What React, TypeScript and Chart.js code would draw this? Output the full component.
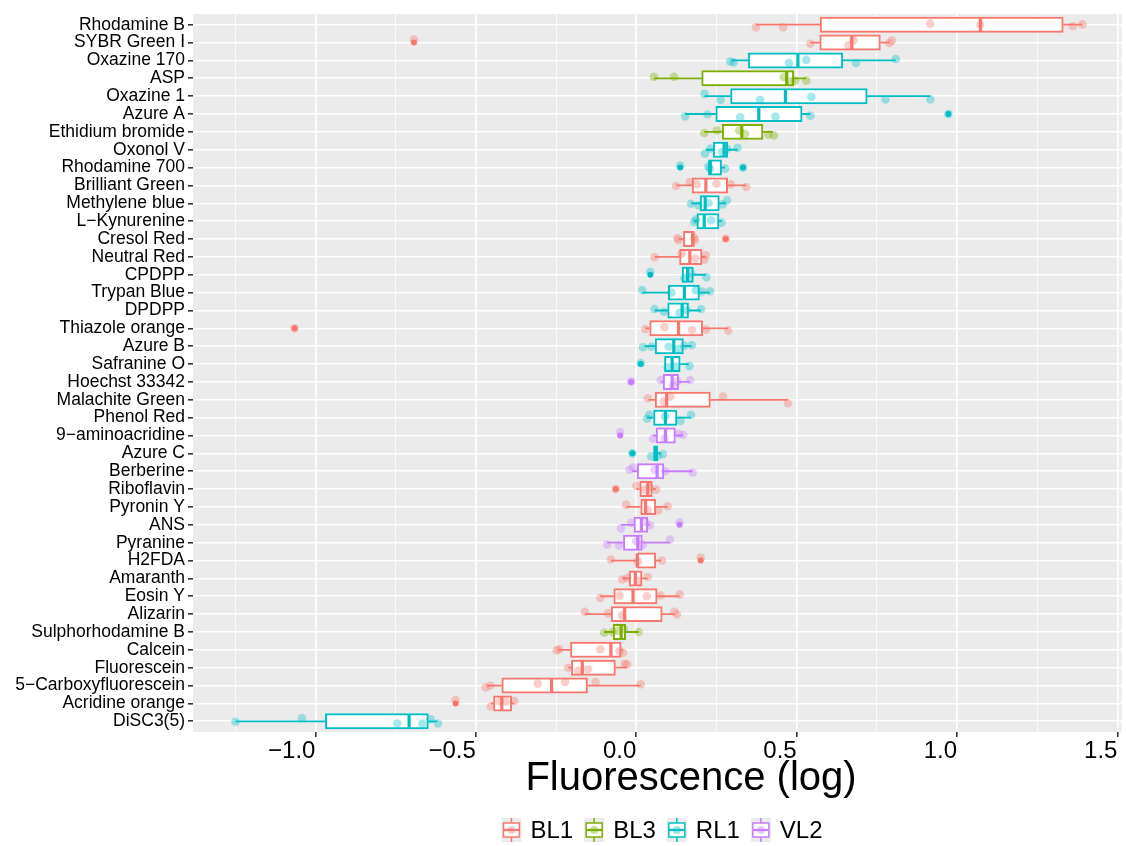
import React, { useEffect, useRef } from 'react';
import { Chart, registerables } from 'chart.js';

Chart.register(...registerables);

const FONT = "'Liberation Sans', Arial, Helvetica, sans-serif";

const compounds = [
  'Rhodamine B', 'SYBR Green I', 'Oxazine 170', 'ASP', 'Oxazine 1', 'Azure A', 'Ethidium bromide', 'Oxonol V',
  'Rhodamine 700', 'Brilliant Green', 'Methylene blue', 'L−Kynurenine', 'Cresol Red', 'Neutral Red', 'CPDPP',
  'Trypan Blue', 'DPDPP', 'Thiazole orange', 'Azure B', 'Safranine O', 'Hoechst 33342', 'Malachite Green',
  'Phenol Red', '9−aminoacridine', 'Azure C', 'Berberine', 'Riboflavin', 'Pyronin Y', 'ANS', 'Pyranine', 'H2FDA',
  'Amaranth', 'Eosin Y', 'Alizarin', 'Sulphorhodamine B', 'Calcein', 'Fluorescein', '5−Carboxyfluorescein',
  'Acridine orange', 'DiSC3(5)',
];

const channels = [
  'BL1', 'BL1', 'RL1', 'BL3', 'RL1', 'RL1', 'BL3', 'RL1', 'RL1', 'BL1', 'RL1', 'RL1', 'BL1', 'BL1', 'RL1', 'RL1',
  'RL1', 'BL1', 'RL1', 'RL1', 'VL2', 'BL1', 'RL1', 'VL2', 'RL1', 'VL2', 'BL1', 'BL1', 'VL2', 'VL2', 'BL1', 'BL1',
  'BL1', 'BL1', 'BL3', 'BL1', 'BL1', 'BL1', 'BL1', 'RL1',
];

const legendChannels = ['BL1', 'BL3', 'RL1', 'VL2'];
const channelColors: Record<string, string> = { BL1: '#F8766D', BL3: '#7CAE00', RL1: '#00BFC4', VL2: '#C77CFF' };

const whiskerLow = [0.373, 0.543, 0.297, 0.055, 0.213, 0.152, 0.212, 0.217, 0.225, 0.124, 0.171, 0.180, 0.132, 0.057, 0.143, 0.019, 0.057, 0.028, 0.026, 0.088, 0.076, 0.038, 0.034, 0.052, 0.054, -0.013, 0.000, -0.031, -0.047, -0.091, -0.079, -0.044, -0.112, -0.160, -0.100, -0.243, -0.212, -0.465, -0.453, -1.249];
const quartile1 = [0.573, 0.572, 0.349, 0.204, 0.294, 0.248, 0.268, 0.240, 0.225, 0.174, 0.199, 0.189, 0.147, 0.135, 0.143, 0.100, 0.098, 0.042, 0.059, 0.088, 0.084, 0.059, 0.054, 0.062, 0.054, 0.003, 0.011, 0.014, -0.007, -0.040, 0.000, -0.022, -0.070, -0.078, -0.072, -0.205, -0.202, -0.419, -0.445, -0.969];
const medians = [1.073, 0.672, 0.504, 0.469, 0.465, 0.382, 0.329, 0.274, 0.231, 0.217, 0.215, 0.212, 0.176, 0.167, 0.160, 0.150, 0.143, 0.132, 0.117, 0.112, 0.112, 0.095, 0.091, 0.091, 0.060, 0.065, 0.036, 0.029, 0.016, 0.005, 0.003, -0.003, -0.010, -0.036, -0.047, -0.079, -0.168, -0.264, -0.419, -0.708];
const quartile3 = [1.331, 0.761, 0.644, 0.491, 0.720, 0.517, 0.395, 0.285, 0.266, 0.285, 0.259, 0.258, 0.181, 0.205, 0.178, 0.197, 0.163, 0.207, 0.147, 0.137, 0.132, 0.231, 0.127, 0.122, 0.067, 0.086, 0.050, 0.061, 0.036, 0.019, 0.061, 0.018, 0.065, 0.081, -0.033, -0.047, -0.065, -0.152, -0.388, -0.648];
const whiskerHigh = [1.391, 0.789, 0.809, 0.530, 0.917, 0.543, 0.426, 0.316, 0.277, 0.343, 0.279, 0.267, 0.183, 0.217, 0.217, 0.230, 0.202, 0.287, 0.173, 0.164, 0.168, 0.473, 0.171, 0.147, 0.078, 0.176, 0.062, 0.098, 0.044, 0.105, 0.078, 0.036, 0.135, 0.119, 0.008, -0.041, -0.028, 0.014, -0.380, -0.620];

// outliers per compound (index -> values)
const outliers: number[][] = [
  [], [-0.693], [], [], [], [0.973], [], [], [0.137, 0.333], [], [], [], [0.279], [], [0.044], [], [], [-1.065],
  [], [0.014], [-0.016], [], [], [-0.050], [-0.012], [], [-0.064], [], [0.135], [], [0.201], [], [], [], [], [], [],
  [], [-0.563], [],
];

// jittered observations per compound: [value, vertical jitter in category units]
const observations: number[][][] = [
  [[0.373, 0.15], [0.458, 0.15], [0.916, -0.06], [1.072, 0], [1.361, 0.09], [1.391, -0.02]],
  [[-0.693, -0.17], [0.543, 0.07], [0.662, 0.15], [0.677, -0.13], [0.789, 0.02], [0.797, -0.11]],
  [[0.293, 0.06], [0.303, 0.11], [0.476, 0.14], [0.530, -0.03], [0.685, 0.14], [0.809, -0.08]],
  [[0.055, -0.09], [0.118, -0.09], [0.460, -0.06], [0.481, 0.18], [0.495, 0.13], [0.530, 0.13]],
  [[0.213, -0.13], [0.263, 0.21], [0.386, 0.2], [0.546, 0.04], [0.777, 0.19], [0.917, 0.19]],
  [[0.152, 0.14], [0.222, 0.03], [0.324, 0.18], [0.434, 0.14], [0.543, 0.1], [0.973, 0]],
  [[0.212, 0.06], [0.251, -0.08], [0.321, -0.08], [0.339, 0.11], [0.412, 0.16], [0.429, 0.2]],
  [[0.214, 0.22], [0.231, -0.06], [0.267, 0.13], [0.283, -0.05], [0.316, -0.11]],
  [[0.137, -0.11], [0.225, -0.06], [0.230, 0.06], [0.277, 0.06], [0.333, 0]],
  [[0.124, 0.03], [0.166, -0.19], [0.189, -0.06], [0.250, -0.1], [0.295, -0.06], [0.343, 0.09]],
  [[0.171, 0.02], [0.194, 0.11], [0.225, -0.02], [0.269, 0.06], [0.283, -0.17]],
  [[0.181, 0.04], [0.186, -0.09], [0.233, -0.05], [0.266, 0.08]],
  [[0.128, -0.06], [0.132, 0.07], [0.181, -0.07], [0.183, 0.07], [0.279, -0.03]],
  [[0.057, 0.02], [0.142, -0.19], [0.184, 0.09], [0.212, 0.15], [0.217, -0.09]],
  [[0.044, -0.17], [0.150, 0.2], [0.166, 0.13], [0.171, -0.08], [0.219, 0.14]],
  [[0.019, -0.14], [0.109, 0], [0.186, -0.14], [0.205, -0.06], [0.230, -0.08]],
  [[0.057, -0.08], [0.086, 0.07], [0.135, 0.13], [0.157, -0.03], [0.202, -0.08]],
  [[-1.065, 0], [0.028, 0.04], [0.088, -0.06], [0.174, 0.09], [0.217, 0.07], [0.287, 0.13]],
  [[0.021, 0.06], [0.047, 0.03], [0.101, 0.03], [0.132, 0.14], [0.150, -0.03], [0.173, -0.06]],
  [[0.014, -0.06], [0.098, 0.2], [0.124, 0.15], [0.166, 0.11]],
  [[-0.016, -0.03], [0.076, -0.11], [0.114, 0.21], [0.129, -0.02], [0.168, -0.11]],
  [[0.036, -0.09], [0.086, 0.1], [0.107, -0.18], [0.271, -0.18], [0.473, 0.19]],
  [[0.034, 0.06], [0.041, -0.16], [0.090, -0.06], [0.138, 0.18], [0.171, -0.16]],
  [[-0.050, -0.19], [0.052, 0.18], [0.088, 0.18], [0.132, -0.09], [0.147, -0.04]],
  [[-0.012, 0], [0.047, 0.17], [0.067, 0.13], [0.083, 0.04]],
  [[-0.021, -0.08], [-0.010, -0.21], [0.057, -0.08], [0.090, 0], [0.176, 0.07]],
  [[-0.064, 0], [0.000, -0.19], [0.026, 0.03], [0.041, -0.11], [0.062, 0.03]],
  [[-0.031, -0.13], [0.036, 0.19], [0.069, 0.19], [0.098, -0.04]],
  [[-0.048, 0.2], [-0.016, -0.11], [0.028, -0.16], [0.043, 0.03], [0.135, -0.13]],
  [[-0.091, 0.11], [-0.054, 0.15], [0.000, -0.08], [0.021, 0.11], [0.105, -0.17]],
  [[-0.079, -0.06], [0.005, 0.06], [0.080, 0], [0.201, -0.17]],
  [[-0.044, 0.06], [-0.028, -0.03], [0.005, 0.14], [0.036, -0.08]],
  [[-0.112, 0.09], [-0.052, -0.04], [0.033, 0], [0.076, -0.04], [0.135, -0.09]],
  [[-0.160, -0.13], [-0.088, -0.04], [-0.044, 0.07], [0.119, -0.13], [0.127, 0.02]],
  [[-0.100, 0.04], [-0.074, 0], [-0.057, -0.06], [-0.038, -0.15], [0.008, 0]],
  [[-0.248, 0.03], [-0.240, -0.03], [-0.112, -0.03], [-0.052, 0.07], [-0.041, 0.16]],
  [[-0.212, 0], [-0.181, 0.18], [-0.150, 0.09], [-0.036, -0.22], [-0.028, -0.19]],
  [[-0.470, 0.11], [-0.455, 0], [-0.307, -0.11], [-0.222, -0.2], [-0.127, -0.2], [0.014, -0.07]],
  [[-0.563, -0.19], [-0.453, 0.17], [-0.426, -0.11], [-0.407, -0.11], [-0.380, -0.14]],
  [[-1.249, 0.03], [-1.042, -0.17], [-0.745, 0.12], [-0.667, 0.12], [-0.641, -0.11], [-0.618, 0.12]],
];

const xTickValues = [-1.25, -1.0, -0.75, -0.5, -0.25, 0, 0.25, 0.5, 0.75, 1.0, 1.25, 1.5];
const xLimits = [-1.3816, 1.5132];
const xTitle = 'Fluorescence (log)';

const BOX_HALF_PX = 7.15;

function rgba(hex: string, a: number) {
  const n = parseInt(hex.slice(1), 16);
  return `rgba(${(n >> 16) & 255},${(n >> 8) & 255},${n & 255},${a})`;
}
const isMajor = (v: number) => Math.abs(v * 2 - Math.round(v * 2)) < 1e-6;
const fmtTick = (v: number) => (v < 0 ? '\u2212' : '') + Math.abs(v).toFixed(1);

const panelBg = {
  id: 'panelBg',
  beforeDraw(chart: any) {
    const { ctx, chartArea: a } = chart;
    ctx.save();
    ctx.fillStyle = '#EBEBEB';
    ctx.fillRect(a.left, a.top, a.right - a.left, a.bottom - a.top);
    ctx.restore();
  },
};

const boxParts = {
  id: 'boxParts',
  afterDatasetDraw(chart: any, args: any) {
    if (args.index !== 0) return;
    const { ctx, scales, chartArea: a } = chart;
    const xs = scales.x, ys = scales.y;
    ctx.save();
    ctx.beginPath();
    ctx.rect(a.left, a.top, a.right - a.left, a.bottom - a.top);
    ctx.clip();
    compounds.forEach((_, i) => {
      const c = channelColors[channels[i]];
      const yc = ys.getPixelForValue(i);
      ctx.strokeStyle = c;
      ctx.lineWidth = 1.8;
      ctx.beginPath();
      ctx.moveTo(xs.getPixelForValue(whiskerLow[i]), yc);
      ctx.lineTo(xs.getPixelForValue(quartile1[i]), yc);
      ctx.moveTo(xs.getPixelForValue(quartile3[i]), yc);
      ctx.lineTo(xs.getPixelForValue(whiskerHigh[i]), yc);
      ctx.stroke();
      ctx.lineWidth = 3.2;
      const xm = xs.getPixelForValue(medians[i]);
      ctx.beginPath();
      ctx.moveTo(xm, yc - BOX_HALF_PX);
      ctx.lineTo(xm, yc + BOX_HALF_PX);
      ctx.stroke();
    });
    ctx.restore();
  },
};

const xTitlePlugin = {
  id: 'xTitle',
  afterDraw(chart: any) {
    const { ctx } = chart;
    ctx.save();
    ctx.font = `40px ${FONT}`;
    ctx.fillStyle = '#000';
    ctx.textAlign = 'center';
    ctx.textBaseline = 'middle';
    ctx.fillText(xTitle, 691, 779);
    ctx.restore();
  },
};

const legendPlugin = {
  id: 'ggLegend',
  afterDraw(chart: any) {
    const { ctx } = chart;
    ctx.save();
    ctx.font = `24px ${FONT}`;
    const keyW = 20;
    const gapKeyText = 9;
    const gapItems = 11;
    const widths = legendChannels.map((c) => ctx.measureText(c).width);
    const total = widths.reduce((s, w) => s + keyW + gapKeyText + w, 0) + gapItems * (legendChannels.length - 1);
    let x = 662 - total / 2;
    const yc = 830;
    legendChannels.forEach((c, k) => {
      const col = channelColors[c];
      ctx.fillStyle = '#EBEBEB';
      ctx.fillRect(x, yc - 12, keyW, 24);
      ctx.strokeStyle = col;
      ctx.lineWidth = 1.5;
      ctx.beginPath();
      ctx.moveTo(x + keyW / 2, yc - 12);
      ctx.lineTo(x + keyW / 2, yc - 7);
      ctx.moveTo(x + keyW / 2, yc + 7);
      ctx.lineTo(x + keyW / 2, yc + 12);
      ctx.stroke();
      ctx.fillStyle = '#FFFFFF';
      ctx.fillRect(x + 2, yc - 7, keyW - 4, 14);
      ctx.strokeRect(x + 2, yc - 7, keyW - 4, 14);
      ctx.lineWidth = 2.2;
      ctx.beginPath();
      ctx.moveTo(x + 2, yc);
      ctx.lineTo(x + keyW - 2, yc);
      ctx.stroke();
      ctx.fillStyle = rgba(col, 0.4);
      ctx.beginPath();
      ctx.arc(x + keyW / 2, yc, 4, 0, Math.PI * 2);
      ctx.fill();
      ctx.fillStyle = '#000';
      ctx.textBaseline = 'middle';
      ctx.textAlign = 'left';
      ctx.fillText(c, x + keyW + gapKeyText, yc + 1);
      x += keyW + gapKeyText + widths[k] + gapItems;
    });
    ctx.restore();
  },
};

export default function App() {
  const ref = useRef<HTMLCanvasElement>(null);
  useEffect(() => {
    const canvas = ref.current;
    if (!canvas) return;

    const boxData = compounds.map((_, i) => ({ x: [quartile1[i], quartile3[i]], y: i }));
    const outlierData: any[] = [];
    const outlierColors: string[] = [];
    outliers.forEach((vals, i) => vals.forEach((v) => {
      outlierData.push({ x: v, y: i });
      outlierColors.push(channelColors[channels[i]]);
    }));
    const jitterSets = legendChannels.map((ch) => {
      const data: any[] = [];
      observations.forEach((obs, i) => {
        if (channels[i] !== ch) return;
        obs.forEach(([v, dy]) => data.push({ x: v, y: i + dy }));
      });
      return {
        type: 'scatter' as const,
        label: ch,
        data,
        pointRadius: 4.3,
        pointBackgroundColor: rgba(channelColors[ch], 0.36),
        pointBorderWidth: 0,
        pointBorderColor: 'rgba(0,0,0,0)',
        order: 1,
      };
    });

    const chart = new Chart(canvas, {
      type: 'scatter',
      data: {
        datasets: [
          {
            type: 'bar',
            label: 'boxes',
            indexAxis: 'y',
            data: boxData as any,
            backgroundColor: '#FFFFFF',
            borderColor: compounds.map((_, i) => channelColors[channels[i]]),
            borderWidth: 2,
            borderSkipped: false,
            barThickness: BOX_HALF_PX * 2 + 1,
            order: 3,
          } as any,
          {
            type: 'scatter',
            label: 'outliers',
            data: outlierData,
            pointRadius: 3,
            pointBackgroundColor: outlierColors,
            pointBorderWidth: 0,
            order: 2,
          } as any,
          ...(jitterSets as any[]),
        ],
      },
      options: {
        responsive: false,
        devicePixelRatio: 1,
        animation: false,
        events: [],
        layout: { padding: { top: 14, right: 0, bottom: 46, left: 0 } },
        plugins: { legend: { display: false }, tooltip: { enabled: false } },
        scales: {
          x: {
            type: 'linear',
            position: 'bottom',
            offset: false,
            min: xLimits[0],
            max: xLimits[1],
            afterBuildTicks: (s: any) => { s.ticks = xTickValues.map((v) => ({ value: v })); },
            afterFit: (s: any) => { s.height = 68; s.paddingLeft = 0; s.paddingRight = 0; },
            border: { display: false },
            grid: {
              offset: false,
              color: '#FFFFFF',
              lineWidth: (c: any) => (c.tick && isMajor(c.tick.value) ? 1.6 : 0.8),
              tickColor: (c: any) => (c.tick && isMajor(c.tick.value) ? '#333333' : 'rgba(0,0,0,0)'),
              tickLength: 5,
              drawTicks: true,
            },
            ticks: {
              autoSkip: false,
              maxRotation: 0,
              minRotation: 0,
              align: 'end',
              padding: 0,
              color: '#000000',
              font: { family: FONT, size: 24 },
              callback: (v: any) => (isMajor(Number(v)) ? fmtTick(Number(v)) : ''),
            },
            title: { display: false },
          },
          y: {
            type: 'linear',
            reverse: true,
            offset: false,
            min: -0.6,
            max: compounds.length - 0.4,
            afterBuildTicks: (s: any) => { s.ticks = compounds.map((_, i) => ({ value: i })); },
            afterFit: (s: any) => { s.width = 193; s.paddingTop = 0; s.paddingBottom = 0; },
            border: { display: false },
            grid: { offset: false, color: '#FFFFFF', lineWidth: 1.6, tickColor: '#333333', tickLength: 5, drawTicks: true },
            ticks: {
              autoSkip: false,
              padding: 3,
              color: '#000000',
              font: { family: FONT, size: 17.5 },
              callback: (v: any) => compounds[Math.round(Number(v))] ?? '',
            },
          },
        },
      } as any,
      plugins: [panelBg, boxParts, xTitlePlugin, legendPlugin],
    });
    return () => chart.destroy();
  }, []);

  return (
    <div style={{ position: 'absolute', left: 0, top: 0, width: 1126, height: 846, background: '#FFFFFF' }}>
      <canvas ref={ref} width={1126} height={846} style={{ display: 'block', width: 1126, height: 846 }} />
    </div>
  );
}
